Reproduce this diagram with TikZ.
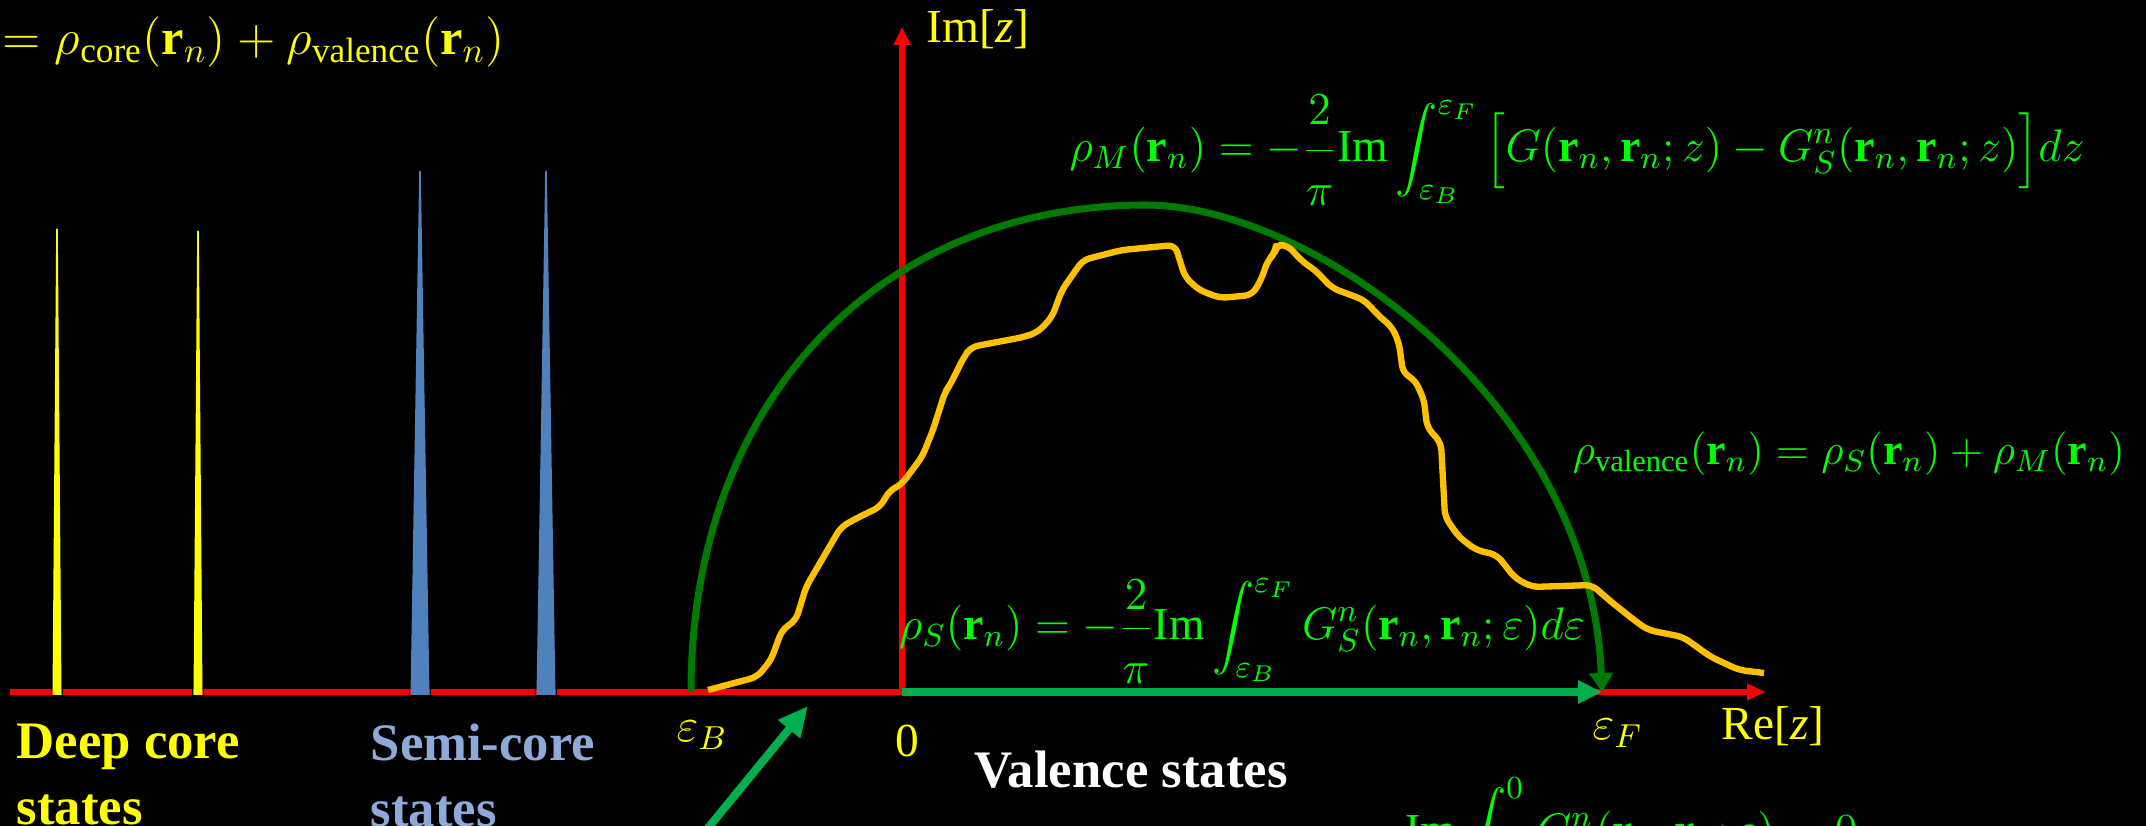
\RequirePackage{fix-cm}
\documentclass[tikz,border=0pt]{standalone}
\usepackage{amsmath}
\usepackage{fontspec}
\setmainfont{Liberation Serif}
\usetikzlibrary{arrows.meta}
\definecolor{axisred}{HTML}{FF0000}
\definecolor{coreyellow}{HTML}{FFFF00}
\definecolor{semiblue}{HTML}{4F81BD}
\definecolor{semitext}{HTML}{8EAADB}
\definecolor{eqgreen}{HTML}{00FF00}
\definecolor{arcgreen}{HTML}{007A00}
\definecolor{sgreen}{HTML}{00B050}
\definecolor{dosorange}{HTML}{FFC000}

\begin{document}
\begin{tikzpicture}[x=0.1mm,y=-0.1mm,
      axis/.style={draw=axisred,line width=1.6pt,-{Triangle[length=1.8mm,width=1.6mm]}},
      peak/.style={draw=black,line width=0.3pt},
      arc/.style={draw=arcgreen,line width=2pt,-{Triangle[length=1.9mm,width=2.3mm]}},
      sarrow/.style={draw=sgreen,line width=2pt,-{Triangle[length=2.4mm,width=2.2mm]}},
      dos/.style={draw=dosorange,line width=1.8pt,line join=round,rounded corners=2pt},
      eqn/.style={text=eqgreen,inner sep=0pt,font=\fontsize{13}{15}\selectfont},
      axislbl/.style={text=coreyellow,inner sep=0pt,font=\fontsize{13.5}{16}\selectfont},
      statetext/.style={inner sep=0pt,align=left,anchor=north west,font=\fontsize{15}{18.8}\selectfont\bfseries}]
  \useasboundingbox (0,0) rectangle (2146,826);
  \fill[black] (0,0) rectangle (2146,826);
  \clip (0,0) rectangle (2146,826);
  % axes
  \coordinate (o) at (902,692);
  \coordinate (reL) at (10,692);
  \coordinate (reR) at (1765,692);
  \coordinate (imT) at (902,27);
  \coordinate (eB) at (691,692);
  \coordinate (eF) at (1602,692);
  \coordinate (arctop) at (1146,205);
  \draw[axis] (reL) -- (reR);
  % core peaks
  \foreach \px/\ptop/\w/\c in {57/229/9/coreyellow,198/231/9/coreyellow,420/171/19/semiblue,546/171/19/semiblue}{
    \fill[\c] (\px-\w/2,695) -- (\px-0.8,\ptop) -- (\px+0.8,\ptop) -- (\px+\w/2,695) -- cycle;
    \draw[peak] (\px-\w/2-1,680) -- (\px-\w/2-1,697) -- (\px+\w/2+1,697) -- (\px+\w/2+1,680);
  }
  \draw[axis] (o) -- (imT);
  % contour
  \draw[arc] (eB) .. controls (691,400) and (880,205) .. (arctop) .. controls (1310,205) and (1590,400) .. (eF);
  % valence DOS
  \draw[dos] plot coordinates {(708,690) (757,677) (771,660) (782,630) (796,620) (806,587) (841,527) (859,517)
    (880,507) (890,490) (901,485) (922,457) (933,430) (945,392) (950,385) (964,357) (971,347) (1024,337)
    (1038,332) (1052,317) (1062,290) (1083,260) (1122,250) (1175,245) (1185,277) (1199,290) (1220,298)
    (1252,295) (1261,280) (1268,260) (1275,253) (1276,245) (1287,245) (1304,263) (1315,270) (1332,288)
    (1364,300) (1381,318) (1392,327) (1399,343) (1403,373) (1415,380) (1424,400) (1427,427) (1441,443)
    (1445,517) (1459,537) (1476,550) (1497,555) (1515,578) (1532,587) (1592,585) (1609,600) (1634,620)
    (1648,630) (1683,637) (1711,657) (1739,670) (1764,673)};
  \draw[sarrow] (o) -- (eF);
  \coordinate (ptrtail) at (690,850);
  \coordinate (ptrtip) at (808,706);
  \draw[sarrow,line width=2.3pt,-{Triangle[length=3mm,width=2.7mm]}] (ptrtail) -- (ptrtip);
  % axis labels
  \node[axislbl,anchor=base west] (imlbl) at (926,43) {Im[\textit{z}]};
  \node[axislbl,anchor=base west] (relbl) at (1721,740) {Re[\textit{z}]};
  \node[axislbl,anchor=base west] (eBlbl) at (676,742) {$\varepsilon_B$};
  \node[axislbl,anchor=base] (zero) at (907,757) {0};
  \node[axislbl,anchor=base west] (eFlbl) at (1592,740) {$\varepsilon_F$};
  % state labels
  \node[statetext,text=coreyellow] (deep) at (16,723) {Deep core\\states};
  \node[statetext,text=semitext] (semi) at (370,723) {Semi-core\\states};
  \node[statetext,text=white,anchor=base west] (val) at (974,788) {Valence states};
  % equations
  \node[eqn,text=coreyellow,anchor=base west,font=\fontsize{14.3}{16}\selectfont] (rhotot) at (2,55)
    {$=\rho_{\mathrm{core}}(\mathbf{r}_n)+\rho_{\mathrm{valence}}(\mathbf{r}_n)$};
  \node[eqn,anchor=base] (rhoM) at (1577,162)
    {$\displaystyle\rho_M(\mathbf{r}_n)=-\frac{\raisebox{0.3ex}{$2$}}{\raisebox{-0.6ex}{$\pi$}}\mathrm{Im}\int_{\varepsilon_B}^{\varepsilon_F}\Big[G(\mathbf{r}_n,\mathbf{r}_n;z)-G_S^n(\mathbf{r}_n,\mathbf{r}_n;z)\Big]dz$};
  \node[eqn,anchor=base,font=\fontsize{12.4}{15}\selectfont] (rhoval) at (1849,465)
    {$\rho_{\mathrm{valence}}(\mathbf{r}_n)=\rho_S(\mathbf{r}_n)+\rho_M(\mathbf{r}_n)$};
  \node[eqn,anchor=base] (rhoS) at (1242,640)
    {$\displaystyle\rho_S(\mathbf{r}_n)=-\frac{2}{\raisebox{-0.6ex}{$\pi$}}\mathrm{Im}\int_{\varepsilon_B}^{\varepsilon_F}G_S^n(\mathbf{r}_n,\mathbf{r}_n;\varepsilon)d\varepsilon$};
  \node[eqn,anchor=base west] (rhozero) at (1405,846)
    {$\displaystyle\mathrm{Im}\int_{\varepsilon_B}^{0}G_S^n(\mathbf{r}_n,\mathbf{r}_n;\varepsilon)=0$};
\end{tikzpicture}
\end{document}
